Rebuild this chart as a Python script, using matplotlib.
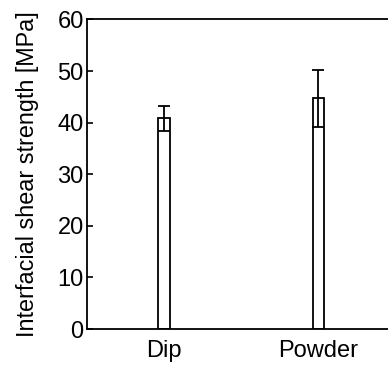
import numpy as np
import matplotlib.pyplot as plt

plt.rcParams['font.family'] = ['Liberation Sans', 'DejaVu Sans']

categories = ['Dip', 'Powder']
strength = [40.8, 44.7]
error = [2.5, 5.5]

x = np.arange(1, len(categories) + 1)

fig = plt.figure(figsize=(3.88, 3.66), dpi=100)
ax = fig.add_axes([0.223, 0.101, 0.797, 0.846])

ax.bar(x, strength, width=0.075, color='white', edgecolor='black', linewidth=1.3, zorder=2)
ax.errorbar(x, strength, yerr=error, fmt='none', ecolor='black', elinewidth=1.3,
            capsize=4.3, capthick=1.3, zorder=3)

ax.set_xlim(0.5, 2.5)
ax.set_ylim(0, 60)
ax.set_yticks(np.arange(0, 61, 10))
ax.set_xticks(x)
ax.set_xticklabels(categories)
ax.set_ylabel('Interfacial shear strength [MPa]', fontsize=16.8, labelpad=13)

for s in ['left', 'top', 'bottom', 'right']:
    ax.spines[s].set_linewidth(1.3)
ax.tick_params(axis='y', direction='in', length=4, width=1.2, pad=2, labelsize=17)
ax.tick_params(axis='x', length=0, pad=8, labelsize=17)

fig.savefig('out.png', dpi=100)
